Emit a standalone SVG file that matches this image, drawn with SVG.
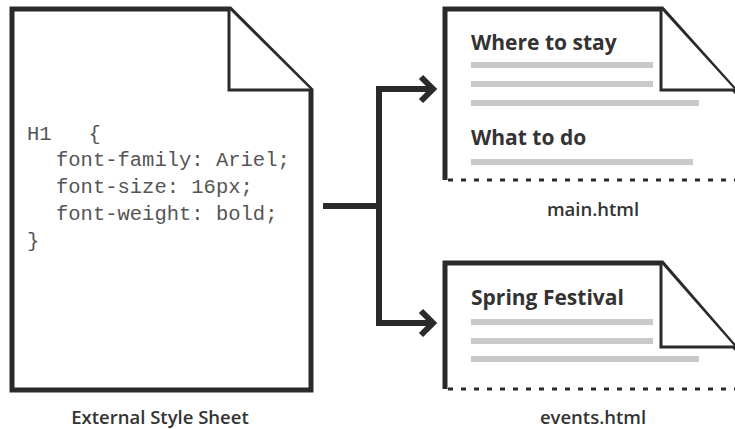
<svg xmlns="http://www.w3.org/2000/svg" width="735" height="429" viewBox="0 0 735 429">
<style>
.outline{fill:#fff;stroke:#2b2a2a;stroke-width:5;stroke-linejoin:miter}
.fold{fill:#fff;stroke:#2b2a2a;stroke-width:3}
.dash{fill:none;stroke:#2b2a2a;stroke-width:3;stroke-dasharray:5 8}
.bar{stroke:#c9c9c9;stroke-width:6}
.code{font-family:"Liberation Mono","Courier New",monospace;font-size:20.5px;fill:#555}
.head{font-family:"Open Sans","Liberation Sans",sans-serif;font-weight:bold;font-size:21px;fill:#333}
.label{font-family:"Open Sans","Liberation Sans",sans-serif;font-weight:600;font-size:18.5px;fill:#333;text-anchor:middle}
.conn{fill:none;stroke:#2b2a2a;stroke-width:6;stroke-linejoin:miter}
</style>
<rect width="735" height="429" fill="#fff"/>
<g id="stylesheet">
<path class="outline" d="M12,9 H230 L311,90 V390 H12 Z"/>
<path class="fold" d="M229,9 V90 H311"/>
<text class="code" x="27" y="140" xml:space="preserve">H1   {</text>
<text class="code" x="56" y="166">font-family: Ariel;</text>
<text class="code" x="56" y="193">font-size: 16px;</text>
<text class="code" x="56" y="220">font-weight: bold;</text>
<text class="code" x="27" y="247">}</text>
<text class="label" x="160" y="424">External Style Sheet</text>
</g>
<g id="main-html">
<path class="outline" d="M445,180 V9 H662 L740,96"/>
<path class="fold" d="M661,9 V90 H735"/>
<line class="dash" x1="448" y1="180" x2="735" y2="180"/>
<text class="head" x="471" y="50">Where to stay</text>
<line class="bar" x1="471" y1="65" x2="653" y2="65"/>
<line class="bar" x1="471" y1="84" x2="653" y2="84"/>
<line class="bar" x1="471" y1="103" x2="699" y2="103"/>
<text class="head" x="471" y="145">What to do</text>
<line class="bar" x1="471" y1="162" x2="693" y2="162"/>
<text class="label" x="593" y="216">main.html</text>
</g>
<g id="events-html">
<path class="outline" d="M445,389 V263 H662 L740,353"/>
<path class="fold" d="M661,263 V347 H735"/>
<line class="dash" x1="448" y1="389" x2="735" y2="389"/>
<text class="head" x="471" y="305">Spring Festival</text>
<line class="bar" x1="471" y1="322" x2="653" y2="322"/>
<line class="bar" x1="471" y1="341" x2="653" y2="341"/>
<line class="bar" x1="471" y1="359" x2="699" y2="359"/>
<text class="label" x="593" y="424">events.html</text>
</g>
<g id="connectors">
<path class="conn" d="M323,206 H379 M379,89 V323 M376,89 H433 M376,323 H433"/>
<path class="conn" d="M421,77 L433,89 L421,101"/>
<path class="conn" d="M421,311 L433,323 L421,335"/>
</g>
</svg>
